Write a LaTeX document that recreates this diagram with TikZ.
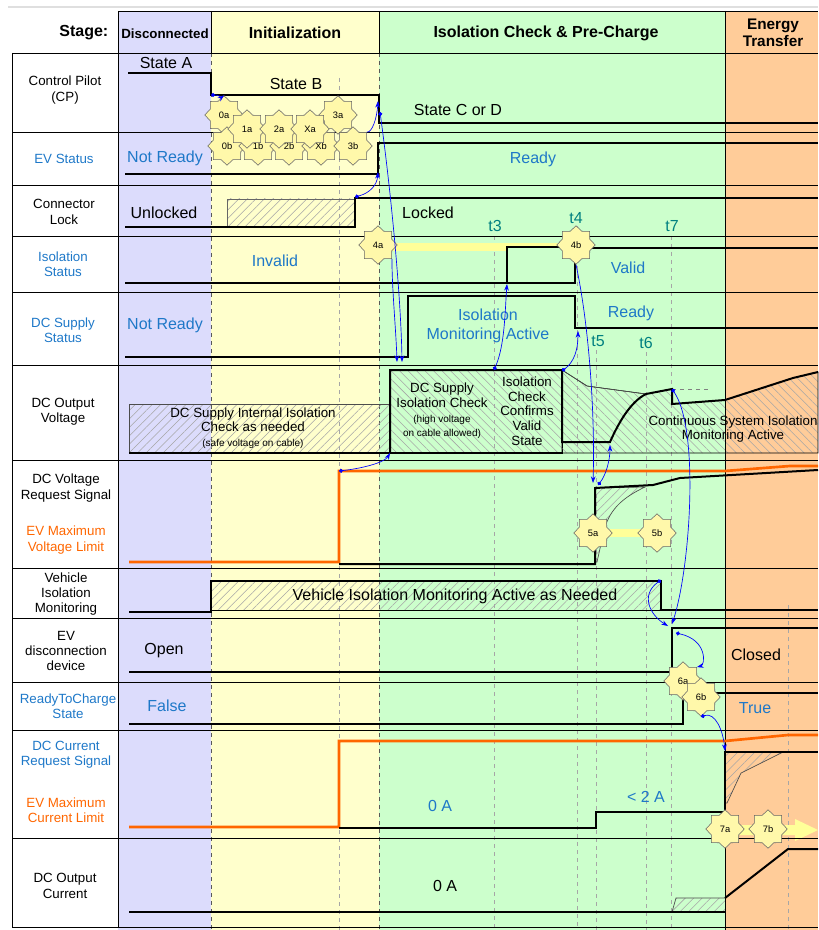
\documentclass[tikz,border=0pt]{standalone}
\usepackage{fontspec}
\setmainfont{Liberation Sans}
\usetikzlibrary{shapes.geometric}
\usetikzlibrary{patterns.meta, arrows.meta}
\definecolor{discon}{RGB}{220,220,252}
\definecolor{initcol}{RGB}{255,255,204}
\definecolor{isocol}{RGB}{204,255,204}
\definecolor{energycol}{RGB}{255,204,153}
\definecolor{txtblue}{RGB}{30,120,200}
\definecolor{limorange}{RGB}{255,102,0}
\definecolor{tcol}{RGB}{0,128,128}
\definecolor{starfill}{RGB}{255,248,170}
\definecolor{barfill}{RGB}{255,255,153}
\begin{document}
\begin{tikzpicture}[x=0.75pt,y=-0.75pt,
  sig/.style={line width=1.5pt},
  lim/.style={line width=2pt,draw=limorange},
  rowline/.style={line width=0.6pt},
  tline/.style={gray!70,dashed,line width=0.6pt},
  stageline/.style={black!65,dashed,line width=0.6pt},
  lab/.style={align=center,font=\fontsize{10}{11.5}\selectfont},
  val/.style={font=\fontsize{12}{14}\selectfont},
  tval/.style={font=\fontsize{12}{14}\selectfont,text=tcol},
  boxtxt/.style={font=\fontsize{10}{11}\selectfont,align=center},
  hne/.style={pattern={Lines[angle=45,distance=4.5pt,line width=0.4pt]},pattern color=black!35},
  hnw/.style={pattern={Lines[angle=-45,distance=4.5pt,line width=0.4pt]},pattern color=black!35},
  evt/.style={star,star points=8,star point ratio=1.3,minimum size=29pt,inner sep=0pt,draw=black!60,fill=starfill,font=\fontsize{7}{8}\selectfont},
  cause/.style={blue,line width=0.5pt,{Circle[length=3pt]}-{Stealth[length=5pt,width=3.5pt]}},
  hit/.style={blue,line width=0.5pt,-{Stealth[length=5pt,width=3.5pt]}}
]
\useasboundingbox (0,0) rectangle (818,930);
\draw[gray!25,line width=2pt] (8,7) -- (818,7);
\fill[discon] (118,11) rectangle (211,930);
\fill[initcol] (211,11) rectangle (379,930);
\fill[isocol] (379,11) rectangle (725,930);
\fill[energycol] (725,11) rectangle (818,930);
\draw[tline] (339,78) -- (339,930);
\draw[tline] (494,236) -- (494,930);
\draw[tline] (577,226) -- (577,930);
\draw[tline] (596,350) -- (596,930);
\draw[tline] (646,352) -- (646,930);
\draw[tline] (671,236) -- (671,930);
\draw[tline] (788,605) -- (788,930);
\draw[stageline] (211,53) -- (211,930);
\draw[stageline] (379,53) -- (379,930);
\fill[barfill] (385,243) rectangle (570,251);
\fill[barfill] (600,529) rectangle (650,537);
\fill[barfill] (735,825) -- (795,825) -- (795,819) -- (818,830) -- (795,841) -- (795,835) -- (735,835) -- cycle;
\draw[hne,draw=black!60,line width=0.5pt] (227,199) rectangle (355,227);
\draw[hnw,fill=isocol,line width=1pt] (507,283) -- (507,247) -- (575,247) -- (575,283);
\draw[hne,draw=black!70,line width=0.5pt] (129,453) -- (129,404) -- (390,404) -- (390,453);
\draw[hnw] (390,370) rectangle (562,453);
\draw[hnw] (562,370) -- (587,386) -- (646,394) -- (672,389) -- (672,404) -- (725,400) -- (793,378) -- (818,372) -- (818,453) -- (562,453) -- cycle;
\draw[black!70,line width=0.5pt] (562,370) -- (587,386) -- (646,394);
\draw[gray,dashed,line width=0.6pt] (672,389) -- (712,389);
\draw[hne,draw=black!70,line width=0.5pt] (595,488) -- (645,487) .. controls (622,498) and (608,510) .. (603,535) -- (597,562) -- (595,562) -- cycle;
\draw[hne] (211,581) rectangle (661,610);
\draw[hne,draw=black!70,line width=0.5pt] (725,752) -- (783,752) -- (741,773) -- (727,803) -- (725,803) -- cycle;
\draw[hne,draw=black!70,line width=0.5pt] (725,912) -- (672,912) -- (676,898) -- (725,898);
\draw[rowline] (12,53) -- (818,53);
\draw[rowline] (12,132) -- (818,132);
\draw[rowline] (12,185) -- (818,185);
\draw[rowline] (12,236) -- (818,236);
\draw[rowline] (12,292) -- (818,292);
\draw[rowline] (12,365) -- (818,365);
\draw[rowline] (12,460) -- (818,460);
\draw[rowline] (12,568) -- (818,568);
\draw[rowline] (12,618) -- (818,618);
\draw[rowline] (12,682) -- (818,682);
\draw[rowline] (12,730) -- (818,730);
\draw[rowline] (12,838) -- (818,838);
\draw[rowline] (12,927) -- (818,927);
\draw[rowline] (12,53) -- (12,927);
\draw[rowline] (118,11) -- (118,927);
\draw[rowline] (118,11) -- (818,11);
\draw[rowline] (211,11) -- (211,53);
\draw[rowline] (379,11) -- (379,53);
\draw[rowline] (725,11) -- (725,930);
\node[anchor=east,font=\bfseries\fontsize{12}{14}\selectfont] (stage) at (113,33) {Stage:};
\node[font=\bfseries\fontsize{10}{12}\selectfont] (hdis) at (165,34) {Disconnected};
\node[font=\bfseries\fontsize{12}{14}\selectfont] (hini) at (295,33) {Initialization};
\node[font=\bfseries\fontsize{12}{14}\selectfont] (hiso) at (546,33) {Isolation Check \& Pre-Charge};
\node[align=center,font=\bfseries\fontsize{11.5}{12.5}\selectfont] (hene) at (773,33) {Energy\\Transfer};
\node[lab] (lcp) at (65,90) {Control Pilot\\(CP)};
\node[lab,text=txtblue] (lev) at (64,159) {EV Status};
\node[lab] (llock) at (64,212) {Connector\\Lock};
\node[lab,text=txtblue] (liso) at (63,264) {Isolation\\Status};
\node[lab,text=txtblue] (lsup) at (63,330) {DC Supply\\Status};
\node[lab] (lvout) at (63,412) {DC Output\\Voltage};
\node[lab] (lvreq) at (66,488) {DC Voltage\\Request Signal};
\node[lab,text=limorange] (lvmax) at (66,540) {EV Maximum\\Voltage Limit};
\node[lab] (lvim) at (66,594) {Vehicle\\Isolation\\Monitoring};
\node[lab] (ldsc) at (66,651) {EV\\disconnection\\device};
\node[lab,text=txtblue] (lrdy) at (68,706) {ReadyToCharge\\State};
\node[lab,text=txtblue] (lcreq) at (66,755) {DC Current\\Request Signal};
\node[lab,text=limorange] (lcmax) at (66,810) {EV Maximum\\Current Limit};
\node[lab] (lcout) at (65,886) {DC Output\\Current};
\draw[sig] (128,73) -- (211,73) -- (211,95) -- (379,95) -- (379,123) -- (818,123);
\draw[sig] (125,174) -- (378,174) -- (378,143) -- (818,143);
\draw[sig] (125,227) -- (355,227) -- (355,198) -- (818,198);
\draw[sig] (125,283) -- (575,283) -- (575,248) -- (818,248);
\draw[sig] (125,357) -- (408,357) -- (408,296) -- (575,296) -- (575,328) -- (818,328);
\draw[sig] (129,453) -- (562,453);
\draw[sig] (390,453) -- (390,370) -- (562,370) -- (562,442) -- (610,442) .. controls (618,424) and (630,402) .. (646,394) -- (672,389) -- (672,404) -- (725,400) -- (793,378) -- (818,372);
\draw[lim] (129,562) -- (339,562) -- (339,471) -- (725,471) -- (790,466) -- (818,466);
\draw[sig] (339,564) -- (595,564) -- (595,488) -- (653,485) -- (680,478) -- (818,470);
\draw[sig] (129,612) -- (211,612) -- (211,581) -- (661,581) -- (661,610) -- (818,610);
\draw[sig] (129,672) -- (672,672) -- (672,628) -- (818,628);
\draw[sig] (129,724) -- (683,724) -- (683,693) -- (818,693);
\draw[lim] (129,827) -- (339,827) -- (339,741) -- (725,741) -- (788,735) -- (818,735);
\draw[sig] (339,828) -- (596,828) -- (596,812) -- (725,812) -- (725,752) -- (818,752);
\draw[sig] (129,912) -- (725,912);
\draw[sig] (725,898) -- (788,849) -- (818,849);
\node[val] (stA) at (166,63) {State A};
\node[val] (stB) at (296,84) {State B};
\node[val] (stC) at (458,110) {State C or D};
\node[val,text=txtblue] (evNR) at (165,158) {Not Ready};
\node[val,text=txtblue] (evR) at (533,159) {Ready};
\node[val] (unl) at (164,213) {Unlocked};
\node[val] (lck) at (428,213) {Locked};
\node[val,text=txtblue] (inv) at (275,261) {Invalid};
\node[val,text=txtblue] (vld) at (628,268) {Valid};
\node[tval] (t3) at (495,226) {t3};
\node[tval] (t4) at (576,218) {t4};
\node[tval] (t7) at (672,226) {t7};
\node[tval] (t5) at (598,341) {t5};
\node[tval] (t6) at (646,343) {t6};
\node[val,text=txtblue] (supNR) at (165,325) {Not Ready};
\node[val,text=txtblue,align=center] (supIMA) at (488,326) {Isolation\\Monitoring Active};
\node[val,text=txtblue] (supR) at (631,313) {Ready};
\node[boxtxt] (intchk) at (253,428) {DC Supply Internal Isolation\\Check as needed\\{\fontsize{7.5}{9}\selectfont(safe voltage on cable)}};
\node[boxtxt] (supchk) at (442,411) {DC Supply\\Isolation Check\\{\fontsize{7.5}{12}\selectfont(high voltage}\\{\fontsize{7.5}{9}\selectfont on cable allowed)}};
\node[boxtxt] (cfm) at (527,411) {Isolation\\Check\\Confirms\\Valid\\State};
\node[boxtxt] (cont) at (733,429) {Continuous System Isolation\\Monitoring Active};
\node[val] (vimtxt) at (455,596) {Vehicle Isolation Monitoring Active as Needed};
\node[val] (opn) at (164,651) {Open};
\node[val] (cls) at (756,655) {Closed};
\node[val,text=txtblue] (fls) at (167,706) {False};
\node[val,text=txtblue] (tru) at (755,708) {True};
\node[val,text=txtblue] (zeroA) at (440,806) {0 A};
\node[val,text=txtblue] (ltA) at (646,797) {< 2 A};
\node[val] (zeroB) at (445,886) {0 A};
\node[evt] (s0a) at (224,115) {0a};
\node[evt] (s3a) at (338,115) {3a};
\node[evt] (s0b) at (227,146) {0b};
\node[evt] (s1b) at (258,146) {1b};
\node[evt] (s2b) at (289,146) {2b};
\node[evt] (sXb) at (321,146) {Xb};
\node[evt] (s3b) at (353,146) {3b};
\node[evt] (s1a) at (247,129) {1a};
\node[evt] (s2a) at (279,129) {2a};
\node[evt] (sXa) at (310,129) {Xa};
\node[evt] (s4a) at (378,245) {4a};
\node[evt] (s4b) at (576,245) {4b};
\node[evt] (s5a) at (593,533) {5a};
\node[evt] (s5b) at (657,533) {5b};
\node[evt] (s6a) at (683,681) {6a};
\node[evt] (s6b) at (701,697) {6b};
\node[evt] (s7a) at (725,829) {7a};
\node[evt] (s7b) at (768,829) {7b};
\coordinate (cpB) at (211,95);
\coordinate (cpC) at (378,101);
\coordinate (cpCD) at (380,112);
\coordinate (dcvA) at (402,362);
\coordinate (dcvB) at (397,362);
\coordinate (lockUp) at (355,197);
\coordinate (evUp) at (378,172);
\coordinate (vreqUp) at (339,471);
\coordinate (dcvLow) at (390,453);
\coordinate (isoT3) at (494,370);
\coordinate (isoBox) at (507,284);
\coordinate (isoDone) at (562,371);
\coordinate (supRdy) at (578,331);
\coordinate (vreqRise) at (593,483);
\coordinate (vreqTop) at (598,485);
\coordinate (rampStart) at (610,445);
\coordinate (dipT7) at (672,389);
\coordinate (dscClose) at (672,624);
\coordinate (vimDrop) at (661,580);
\coordinate (dscCloseB) at (668,626);
\coordinate (dscTop) at (676,633);
\coordinate (creqUp) at (725,751);
\draw[cause] (cpB) .. controls (218,95) and (222,97) .. (s0a.north);
\draw[hit] (s3b.north east) .. controls (372,133) and (377,118) .. (cpC);
\draw[cause] (cpCD) .. controls (392,200) and (401,300) .. (dcvA);
\draw[hit] (s4a.south east) .. controls (392,290) and (396,330) .. (dcvB);
\draw[cause] (lockUp) .. controls (370,193) and (377,185) .. (evUp);
\draw[cause] (vreqUp) .. controls (365,468) and (385,462) .. (dcvLow);
\draw[cause] (isoT3) .. controls (505,345) and (505,310) .. (isoBox);
\draw[cause] (isoDone) .. controls (574,362) and (578,350) .. (supRdy);
\draw[hit] (s4b.south) .. controls (590,330) and (595,420) .. (vreqRise);
\draw[cause] (vreqTop) .. controls (606,475) and (610,460) .. (rampStart);
\draw[cause] (dipT7) .. controls (700,430) and (690,570) .. (dscClose);
\draw[cause] (vimDrop) .. controls (640,595) and (650,615) .. (dscCloseB);
\draw[cause] (dscTop) .. controls (708,640) and (705,665) .. (s6a.north east);
\draw[cause] (s6b.south) .. controls (715,712) and (723,730) .. (creqUp);
\end{tikzpicture}
\end{document}
